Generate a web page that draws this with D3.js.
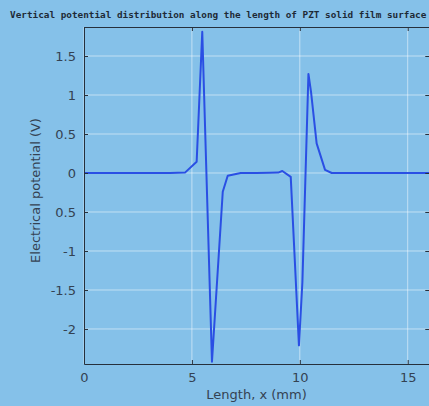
<!DOCTYPE html>
<html>
<head>
<meta charset="utf-8">
<script src="https://cdn.jsdelivr.net/npm/d3@7"></script>
<style>
	html, body { margin: 0; padding: 0; background: #85c1e9; }
	svg { display: block; }
</style>
</head>
<body>
<svg id="chart"></svg>
<script>
const title = 'Vertical potential distribution along the length of PZT solid film surface';
const xLabel = 'Length, x (mm)';
const yLabel = 'Electrical potential (V)';

// length (mm) and potential (V)
const lengths = [0, 1, 2, 3, 4, 4.68, 5.22, 5.48, 5.93, 6.43, 6.66, 7.26, 8, 8.6, 9.0, 9.19, 9.58, 9.96, 10.12, 10.4, 10.52, 10.78, 11.17, 11.48, 12, 13, 14, 15, 16];
const potentials = [0, 0, 0, 0, 0, 0.005, 0.145, 1.81, -2.42, -0.24, -0.035, 0, 0, 0.003, 0.005, 0.025, -0.05, -2.21, -1.4, 1.27, 1.04, 0.38, 0.04, 0, 0, 0, 0, 0, 0];

const xTicks = [0, 5, 10, 15];
const xTickLabels = ['0', '5', '10', '15'];
const yTicks = [-2, -1.5, -1, -0.5, 0, 0.5, 1, 1.5];
const yTickLabels = ['-2', '-1.5', '-1', '0.5', '0', '0.5', '1', '1.5'];

const width = 429;
const height = 406;
const marginTop = 27;
const marginLeft = 84;
const plotBottom = 364;
const textColor = '#344252';

const svg = d3.select('#chart')
	.attr('width', width)
	.attr('height', height)
	.style('background', '#85c1e9');

const x = d3.scaleLinear()
	.domain([0, 16])
	.range([marginLeft, marginLeft + 16 * 21.58]);

const y = d3.scaleLinear()
	.domain([-2.449, 1.872])
	.range([plotBottom, marginTop]);

// grid
svg.append('g')
	.selectAll()
	.data(xTicks)
	.join('line')
	.attr('x1', (d) => x(d))
	.attr('x2', (d) => x(d))
	.attr('y1', marginTop)
	.attr('y2', plotBottom)
	.attr('stroke', '#ffffff')
	.attr('stroke-opacity', 0.5);

svg.append('g')
	.selectAll()
	.data(yTicks)
	.join('line')
	.attr('x1', marginLeft)
	.attr('x2', width)
	.attr('y1', (d) => y(d))
	.attr('y2', (d) => y(d))
	.attr('stroke', '#ffffff')
	.attr('stroke-opacity', 0.5);

// curve
const points = lengths.map((l, i) => [l, potentials[i]]);
svg.append('path')
	.datum(points)
	.attr('fill', 'none')
	.attr('stroke', '#2a4fe4')
	.attr('stroke-width', 2)
	.attr('stroke-linejoin', 'round')
	.attr('d', d3.line().x((d) => x(d[0])).y((d) => y(d[1])));

// axes, ticks point inward
const styleAxis = (g) => {
	g.select('.domain').attr('stroke', '#26303c');
	g.selectAll('.tick line').attr('stroke', '#26303c');
	g.selectAll('.tick text')
		.attr('fill', textColor)
		.attr('font-family', 'DejaVu Sans, sans-serif')
		.attr('font-size', 13);
};

svg.append('g')
	.attr('transform', `translate(0,${plotBottom})`)
	.call(d3.axisBottom(x).tickValues(xTicks).tickFormat((d, i) => xTickLabels[i]).tickSizeInner(-4).tickSizeOuter(0).tickPadding(9))
	.call(styleAxis);

svg.append('g')
	.attr('transform', `translate(0,${marginTop})`)
	.call(d3.axisTop(x).tickValues(xTicks).tickFormat('').tickSizeInner(-4).tickSizeOuter(0))
	.call(styleAxis);

svg.append('g')
	.attr('transform', `translate(${marginLeft},0)`)
	.call(d3.axisLeft(y).tickValues(yTicks).tickFormat((d, i) => yTickLabels[i]).tickSizeInner(-4).tickSizeOuter(0).tickPadding(8))
	.call(styleAxis);

svg.append('g')
	.attr('transform', `translate(${x(16)},0)`)
	.call(d3.axisRight(y).tickValues(yTicks).tickFormat('').tickSizeInner(-4).tickSizeOuter(0))
	.call(styleAxis);

// titles
svg.append('text')
	.attr('x', 10)
	.attr('y', 18)
	.attr('font-family', 'DejaVu Sans Mono, monospace')
	.attr('font-weight', 'bold')
	.attr('font-size', 9.35)
	.attr('fill', '#1e2a36')
	.text(title);

svg.append('text')
	.attr('x', (marginLeft + width) / 2)
	.attr('y', 399)
	.attr('text-anchor', 'middle')
	.attr('font-family', 'DejaVu Sans, sans-serif')
	.attr('font-size', 13)
	.attr('fill', textColor)
	.text(xLabel);

svg.append('text')
	.attr('transform', `translate(40,${(marginTop + plotBottom) / 2 - 5}) rotate(-90)`)
	.attr('text-anchor', 'middle')
	.attr('font-family', 'DejaVu Sans, sans-serif')
	.attr('font-size', 13)
	.attr('fill', textColor)
	.text(yLabel);
</script>
</body>
</html>
